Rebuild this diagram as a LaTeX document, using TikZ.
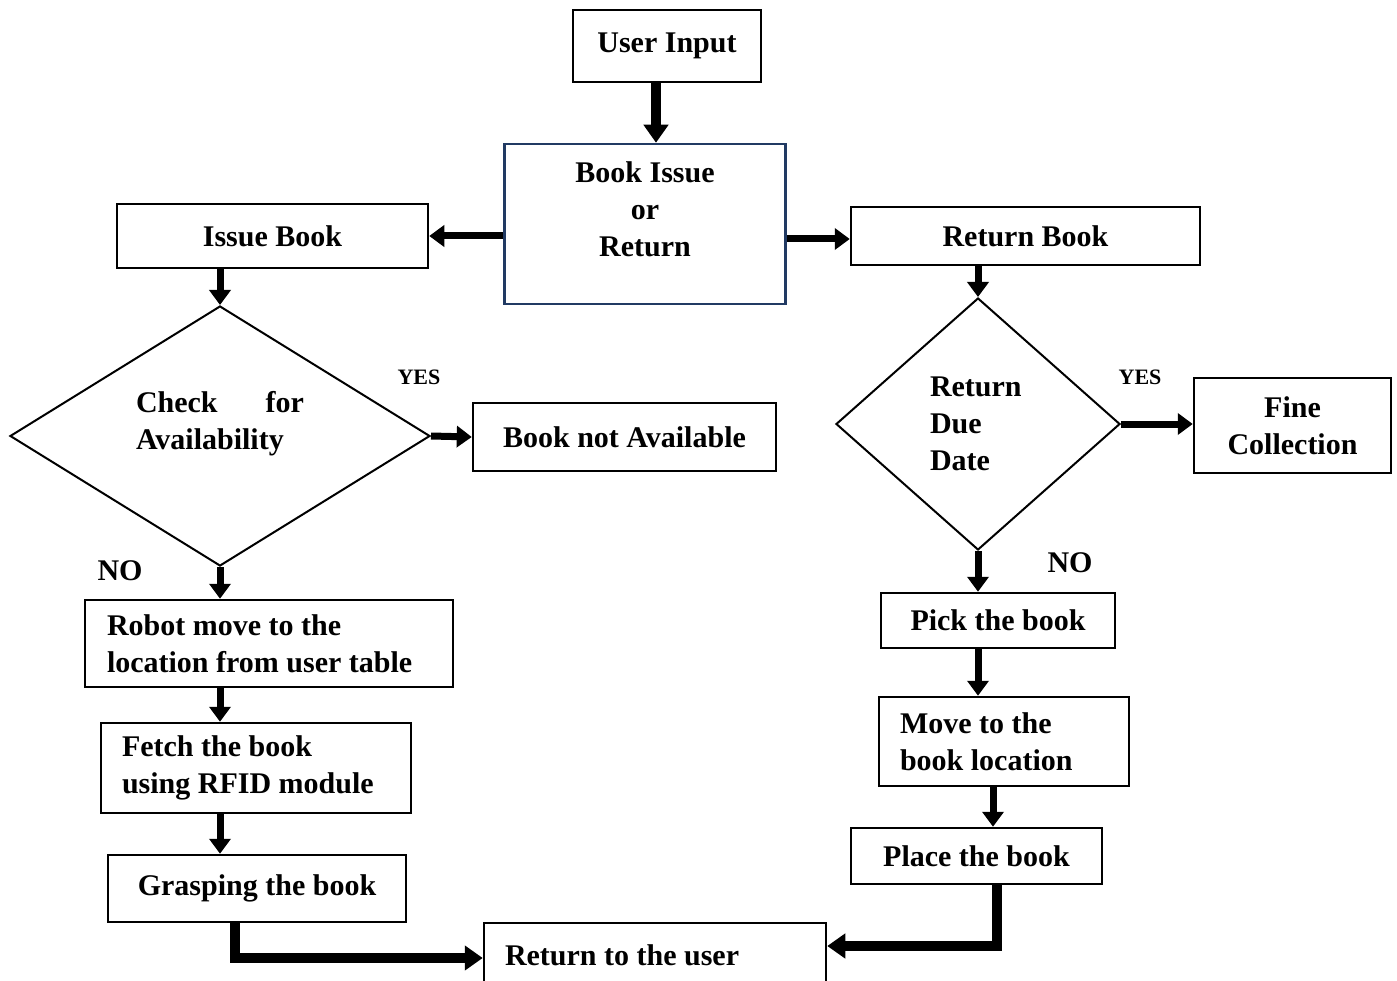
\documentclass[tikz,border=0pt]{standalone}
\usepackage{fontspec}
\setmainfont{Liberation Serif}
\usepackage{xcolor}
\usetikzlibrary{positioning, arrows.meta, shapes.geometric, calc}
\definecolor{boxnavy}{HTML}{213A63}

\begin{document}
\begin{tikzpicture}[
    x=1pt, y=-1pt,
    every node/.style={align=center, font=\fontsize{30}{37}\selectfont\bfseries},
    stepbox/.style={rectangle, draw, line width=2.5pt, fill=white, inner sep=0pt},
    leftbox/.style={stepbox, align=left, execute at begin node={\spaceskip=0pt\xspaceskip=0pt}},
    decision/.style={diamond, draw, line width=2pt, inner sep=0pt, aspect=2,
        execute at begin node={\spaceskip=0pt\xspaceskip=0pt}},
    answer/.style={font=\fontsize{22}{26}\selectfont\bfseries},
    flow/.style={line width=7pt, line join=miter, -{Triangle[length=15pt,width=21pt]}},
    bigflow/.style={flow, line width=10pt, -{Triangle[length=18pt,width=24pt]}}
]
    \useasboundingbox (0,0) rectangle (1397,981);

    % issue / return choice
    \node[stepbox, minimum width=188pt, minimum height=72pt] (inp) at (667,46) {User Input};
    \node[stepbox, draw=boxnavy, minimum width=281pt, minimum height=160pt, text depth=29pt] (bir) at (645,224) {Book Issue\\or\\Return};
    \node[stepbox, minimum width=311pt, minimum height=64pt] (iss) at (272.5,236) {Issue Book};
    \node[stepbox, minimum width=349pt, minimum height=58pt] (ret) at (1025.5,236) {Return Book};

    % issue branch
    \node[decision, minimum width=420pt, minimum height=260pt, text width=168pt, align=left, text depth=68pt] (chk) at (220,436) {Check\hfill for\\Availability};
    \node[stepbox, minimum width=303pt, minimum height=68pt] (nav) at (624.5,437) {Book not Available};
    \node[leftbox, minimum width=368pt, minimum height=87pt, text width=324pt] (rob) at (269,643.5) {Robot move to the\\location from user table};
    \node[leftbox, minimum width=310pt, minimum height=90pt, text width=268pt] (fet) at (256,768) {Fetch the book\\using RFID module};
    \node[stepbox, minimum width=298pt, minimum height=67pt] (gra) at (257,888.5) {Grasping the book};
    \node[leftbox, minimum width=342pt, minimum height=64pt, text width=300pt] (usr) at (655,955) {Return to the user};

    % return branch
    \node[decision, minimum width=284pt, minimum height=252pt, text width=96pt, align=left] (due) at (978,424) {Return\\Due\\Date};
    \node[stepbox, minimum width=197pt, minimum height=95pt] (fin) at (1292.5,425.5) {Fine\\Collection};
    \node[stepbox, minimum width=234pt, minimum height=55pt] (pic) at (998,620.5) {Pick the book};
    \node[leftbox, minimum width=250pt, minimum height=89pt, text width=208pt] (mov) at (1004,741.5) {Move to the\\book location};
    \node[stepbox, minimum width=251pt, minimum height=56pt] (pla) at (976.5,856) {Place the book};

    % yes / no
    \node[answer] (yes1) at (419,377) {YES};
    \node[answer] (yes2) at (1140,377) {YES};
    \node (no1) at (120,571) {NO};
    \node (no2) at (1070,563) {NO};

    % connectors
    \draw[bigflow] ([xshift=-11pt]inp.south) -- ([xshift=-11pt]inp.south |- bir.north);
    \draw[flow] (bir.west |- iss.east) -- (iss.east);
    \draw[flow] ([yshift=-3pt]bir.east |- ret.west) -- ([yshift=-3pt]ret.west);
    \draw[flow] (iss.south -| chk.north) -- (chk.north);
    \draw[flow] (chk.east) -- (nav.west);
    \draw[flow] (chk.south) -- (chk.south |- rob.north);
    \draw[flow] (chk.south |- rob.south) -- (chk.south |- fet.north);
    \draw[flow] (chk.south |- fet.south) -- (chk.south |- gra.north);
    \draw[bigflow] ([xshift=-22pt]gra.south) |- ([yshift=-3pt]usr.west);
    \draw[flow] (ret.south -| due.north) -- (due.north);
    \draw[flow] (due.east) -- (due.east -| fin.west);
    \draw[flow] (due.south) -- (due.south |- pic.north);
    \draw[flow] (due.south |- pic.south) -- (due.south |- mov.north);
    \draw[flow] ([xshift=-11pt]mov.south) -- ([xshift=-11pt]mov.south |- pla.north);
    \draw[bigflow] ([xshift=20pt]pla.south) |- ([yshift=9pt]usr.east);
\end{tikzpicture}
\end{document}
